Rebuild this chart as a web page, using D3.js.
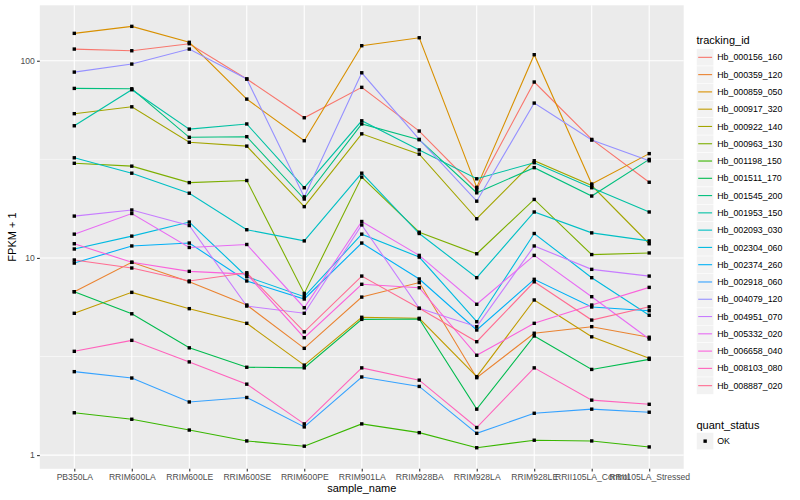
<!DOCTYPE html>
<html>
<head>
<meta charset="utf-8">
<script src="https://cdn.jsdelivr.net/npm/d3@7/dist/d3.min.js"></script>
<style>
	body { margin: 0; background: #ffffff; }
	svg text { font-family: "Liberation Sans", Arial, sans-serif; }
</style>
</head>
<body>
<div id="chart"></div>
<script>
/** Global Variables containing data (FPKM + 1) **/
var sampleNames = ["PB350LA", "RRIM600LA", "RRIM600LE", "RRIM600SE", "RRIM600PE", "RRIM901LA",
	"RRIM928BA", "RRIM928LA", "RRIM928LE", "RRII105LA_Control", "RRII105LA_Stressed"];

var trackingIds = ["Hb_000156_160", "Hb_000359_120", "Hb_000859_050", "Hb_000917_320", "Hb_000922_140",
	"Hb_000963_130", "Hb_001198_150", "Hb_001511_170", "Hb_001545_200", "Hb_001953_150",
	"Hb_002093_030", "Hb_002304_060", "Hb_002374_260", "Hb_002918_060", "Hb_004079_120",
	"Hb_004951_070", "Hb_005332_020", "Hb_006658_040", "Hb_008103_080", "Hb_008887_020"];

var hb_000156_160 = [114.6, 112.4, 122.0, 80.8, 51.4, 73.3, 44.0, 22.3, 78.0, 39.9, 24.2];
var hb_000359_120 = [6.74, 9.50, 7.57, 5.77, 3.48, 6.33, 7.50, 2.47, 4.15, 4.48, 3.96];
var hb_000859_050 = [137.7, 149.4, 124.0, 63.9, 39.3, 119.2, 130.8, 22.8, 107.3, 23.7, 33.8];
var hb_000917_320 = [5.24, 6.69, 5.53, 4.66, 2.86, 5.00, 4.94, 2.50, 6.12, 3.98, 3.10];
var hb_000922_140 = [53.9, 58.4, 38.6, 36.9, 18.2, 42.6, 33.6, 15.8, 31.1, 23.3, 11.8];
var hb_000963_130 = [30.2, 29.2, 24.1, 24.7, 6.61, 25.7, 13.5, 10.5, 19.8, 10.4, 10.6];
var hb_001198_150 = [1.64, 1.52, 1.34, 1.18, 1.11, 1.44, 1.30, 1.09, 1.19, 1.18, 1.10];
var hb_001511_170 = [6.74, 5.21, 3.50, 2.79, 2.77, 4.88, 4.90, 1.71, 4.02, 2.72, 3.06];
var hb_001545_200 = [72.4, 72.1, 40.9, 41.2, 19.9, 47.8, 39.8, 21.4, 28.7, 20.6, 31.6];
var hb_001953_150 = [46.8, 71.3, 45.0, 47.8, 22.7, 49.6, 35.3, 25.2, 30.4, 22.7, 17.1];
var hb_002093_030 = [32.2, 26.9, 21.3, 13.9, 12.2, 26.9, 13.3, 7.94, 17.1, 13.4, 12.2];
var hb_002304_060 = [11.1, 12.9, 15.2, 8.03, 6.36, 13.2, 10.1, 4.75, 13.3, 7.94, 5.12];
var hb_002374_260 = [9.42, 11.5, 11.9, 7.64, 6.19, 11.9, 7.82, 4.31, 7.79, 5.64, 5.40];
var hb_002918_060 = [2.65, 2.46, 1.86, 1.96, 1.39, 2.49, 2.23, 1.29, 1.63, 1.71, 1.65];
var hb_004079_120 = [87.6, 96.2, 114.6, 80.8, 20.4, 86.9, 39.9, 19.4, 61.0, 39.6, 31.1];
var hb_004951_070 = [16.3, 17.5, 14.6, 5.70, 5.24, 14.7, 5.55, 4.48, 11.5, 8.75, 8.09];
var hb_005332_020 = [13.2, 16.8, 11.3, 11.7, 5.59, 15.3, 10.3, 5.82, 10.3, 6.36, 3.88];
var hb_006658_040 = [11.8, 9.50, 8.55, 8.28, 3.94, 7.35, 7.06, 3.21, 4.66, 5.77, 7.09];
var hb_008103_080 = [3.36, 3.82, 2.97, 2.29, 1.44, 2.77, 2.40, 1.38, 2.77, 1.90, 1.81];
var hb_008887_020 = [9.76, 8.89, 7.64, 8.41, 4.22, 8.09, 5.55, 3.76, 7.57, 4.84, 5.65];

var fpkmRows = [hb_000156_160, hb_000359_120, hb_000859_050, hb_000917_320, hb_000922_140,
	hb_000963_130, hb_001198_150, hb_001511_170, hb_001545_200, hb_001953_150,
	hb_002093_030, hb_002304_060, hb_002374_260, hb_002918_060, hb_004079_120,
	hb_004951_070, hb_005332_020, hb_006658_040, hb_008103_080, hb_008887_020];

var yTicks = [1, 10, 100];
var yMinorTicks = [Math.pow(10, 0.5), Math.pow(10, 1.5)];
var quantStatus = ["OK"];

// ggplot default hue palette for 20 groups
var hueColours = ["#F8766D", "#EA8331", "#D89000", "#C09B00", "#A3A500", "#7CAE00", "#39B600",
	"#00BB4E", "#00BF7D", "#00C1A3", "#00BFC4", "#00BAE0", "#00B0F6", "#35A2FF", "#9590FF",
	"#C77CFF", "#E76BF3", "#FA62DB", "#FF62BC", "#FF6C91"];


function drawChart()
{
	var width = 800;
	var height = 500;
	var panel = {left: 39.8, right: 683.7, top: 5.3, bottom: 468.8};
	var ptSize = 3.4;

	var svg = d3.select("#chart")
		.append("svg")
		.attr("width", width)
		.attr("height", height);

	svg.append("rect")
		.attr("width", width)
		.attr("height", height)
		.attr("fill", "#ffffff");

	// log range of the data, expanded by 5% on each side like ggplot
	var allVals = [];
	fpkmRows.forEach(function(row)
	{
		row.forEach(function(v) { allVals.push(v); });
	});
	var lo = Math.log10(d3.min(allVals));
	var hi = Math.log10(d3.max(allVals));
	var pad = (hi - lo) * 0.05;

	var x = d3.scalePoint()
		.domain(sampleNames)
		.range([panel.left, panel.right])
		.padding(0.6);

	var y = d3.scaleLog()
		.domain([Math.pow(10, lo - pad), Math.pow(10, hi + pad)])
		.range([panel.bottom, panel.top]);

	svg.append("rect")
		.attr("x", panel.left)
		.attr("y", panel.top)
		.attr("width", panel.right - panel.left)
		.attr("height", panel.bottom - panel.top)
		.attr("fill", "#EBEBEB");

	var grid = svg.append("g");
	yMinorTicks.forEach(function(t)
	{
		grid.append("line")
			.attr("x1", panel.left).attr("x2", panel.right)
			.attr("y1", y(t)).attr("y2", y(t))
			.attr("stroke", "#ffffff").attr("stroke-width", 0.55);
	});
	yTicks.forEach(function(t)
	{
		grid.append("line")
			.attr("x1", panel.left).attr("x2", panel.right)
			.attr("y1", y(t)).attr("y2", y(t))
			.attr("stroke", "#ffffff").attr("stroke-width", 1.1);
	});
	sampleNames.forEach(function(s)
	{
		grid.append("line")
			.attr("x1", x(s)).attr("x2", x(s))
			.attr("y1", panel.top).attr("y2", panel.bottom)
			.attr("stroke", "#ffffff").attr("stroke-width", 1.1);
	});

	var line = d3.line()
		.x(function(d, i) { return x(sampleNames[i]); })
		.y(function(d) { return y(d); });

	// one line per tracking id, in legend order
	fpkmRows.forEach(function(row, k)
	{
		svg.append("path")
			.attr("d", line(row))
			.attr("fill", "none")
			.attr("stroke", hueColours[k])
			.attr("stroke-width", 1.1);
	});

	// points on top (quant_status = OK, square)
	var pts = svg.append("g");
	fpkmRows.forEach(function(row)
	{
		row.forEach(function(v, i)
		{
			pts.append("rect")
				.attr("x", x(sampleNames[i]) - ptSize / 2)
				.attr("y", y(v) - ptSize / 2)
				.attr("width", ptSize)
				.attr("height", ptSize)
				.attr("fill", "#000000");
		});
	});

	// axes
	var yAxis = svg.append("g")
		.attr("transform", "translate(" + panel.left + ",0)")
		.call(d3.axisLeft(y).tickValues(yTicks).tickFormat(d3.format("d")).tickSize(2.75).tickPadding(2.2));
	var xAxis = svg.append("g")
		.attr("transform", "translate(0," + panel.bottom + ")")
		.call(d3.axisBottom(x).tickSize(2.75).tickPadding(2.2));

	[xAxis, yAxis].forEach(function(ax)
	{
		ax.select(".domain").remove();
		ax.selectAll(".tick line").attr("stroke", "#333333").attr("stroke-width", 1.1);
		ax.selectAll(".tick text")
			.attr("fill", "#4D4D4D")
			.style("font-size", "8.6px")
			.style("font-family", "'Liberation Sans', Arial, sans-serif");
	});

	svg.append("text")
		.attr("x", (panel.left + panel.right) / 2)
		.attr("y", 491.5)
		.attr("text-anchor", "middle")
		.style("font-size", "11px")
		.text("sample_name");

	svg.append("text")
		.attr("transform", "translate(15.5," + ((panel.top + panel.bottom) / 2) + ") rotate(-90)")
		.attr("text-anchor", "middle")
		.style("font-size", "11px")
		.text("FPKM + 1");

	drawLegend(svg, ptSize);
}


/**
 * Legends on the right: colour per tracking_id, shape per quant_status.
 */
function drawLegend(svg, ptSize)
{
	var lx = 696.5;
	var keySize = 17.28;
	var top = 48.7;

	svg.append("text")
		.attr("x", lx)
		.attr("y", 43.5)
		.style("font-size", "11px")
		.text("tracking_id");

	var lg = svg.append("g");
	for (i = 0; i < trackingIds.length; i++)
	{
		var ky = top + i * keySize;
		lg.append("rect")
			.attr("x", lx).attr("y", ky)
			.attr("width", keySize).attr("height", keySize)
			.attr("fill", "#F2F2F2")
			.attr("stroke", "#ffffff").attr("stroke-width", 0.5);
		lg.append("line")
			.attr("x1", lx + 1.7).attr("x2", lx + keySize - 1.7)
			.attr("y1", ky + keySize / 2).attr("y2", ky + keySize / 2)
			.attr("stroke", hueColours[i]).attr("stroke-width", 1.1);
		lg.append("text")
			.attr("x", lx + keySize + 3.5)
			.attr("y", ky + keySize / 2 + 3.1)
			.style("font-size", "8.8px")
			.text(trackingIds[i]);
	}

	svg.append("text")
		.attr("x", lx)
		.attr("y", 428.5)
		.style("font-size", "11px")
		.text("quant_status");

	quantStatus.forEach(function(q, j)
	{
		var ky = 432.5 + j * keySize;
		lg.append("rect")
			.attr("x", lx).attr("y", ky)
			.attr("width", keySize).attr("height", keySize)
			.attr("fill", "#F2F2F2")
			.attr("stroke", "#ffffff").attr("stroke-width", 0.5);
		lg.append("rect")
			.attr("x", lx + keySize / 2 - ptSize / 2).attr("y", ky + keySize / 2 - ptSize / 2)
			.attr("width", ptSize).attr("height", ptSize)
			.attr("fill", "#000000");
		lg.append("text")
			.attr("x", lx + keySize + 3.5)
			.attr("y", ky + keySize / 2 + 3.1)
			.style("font-size", "8.8px")
			.text(q);
	});
}

drawChart();
</script>
</body>
</html>
